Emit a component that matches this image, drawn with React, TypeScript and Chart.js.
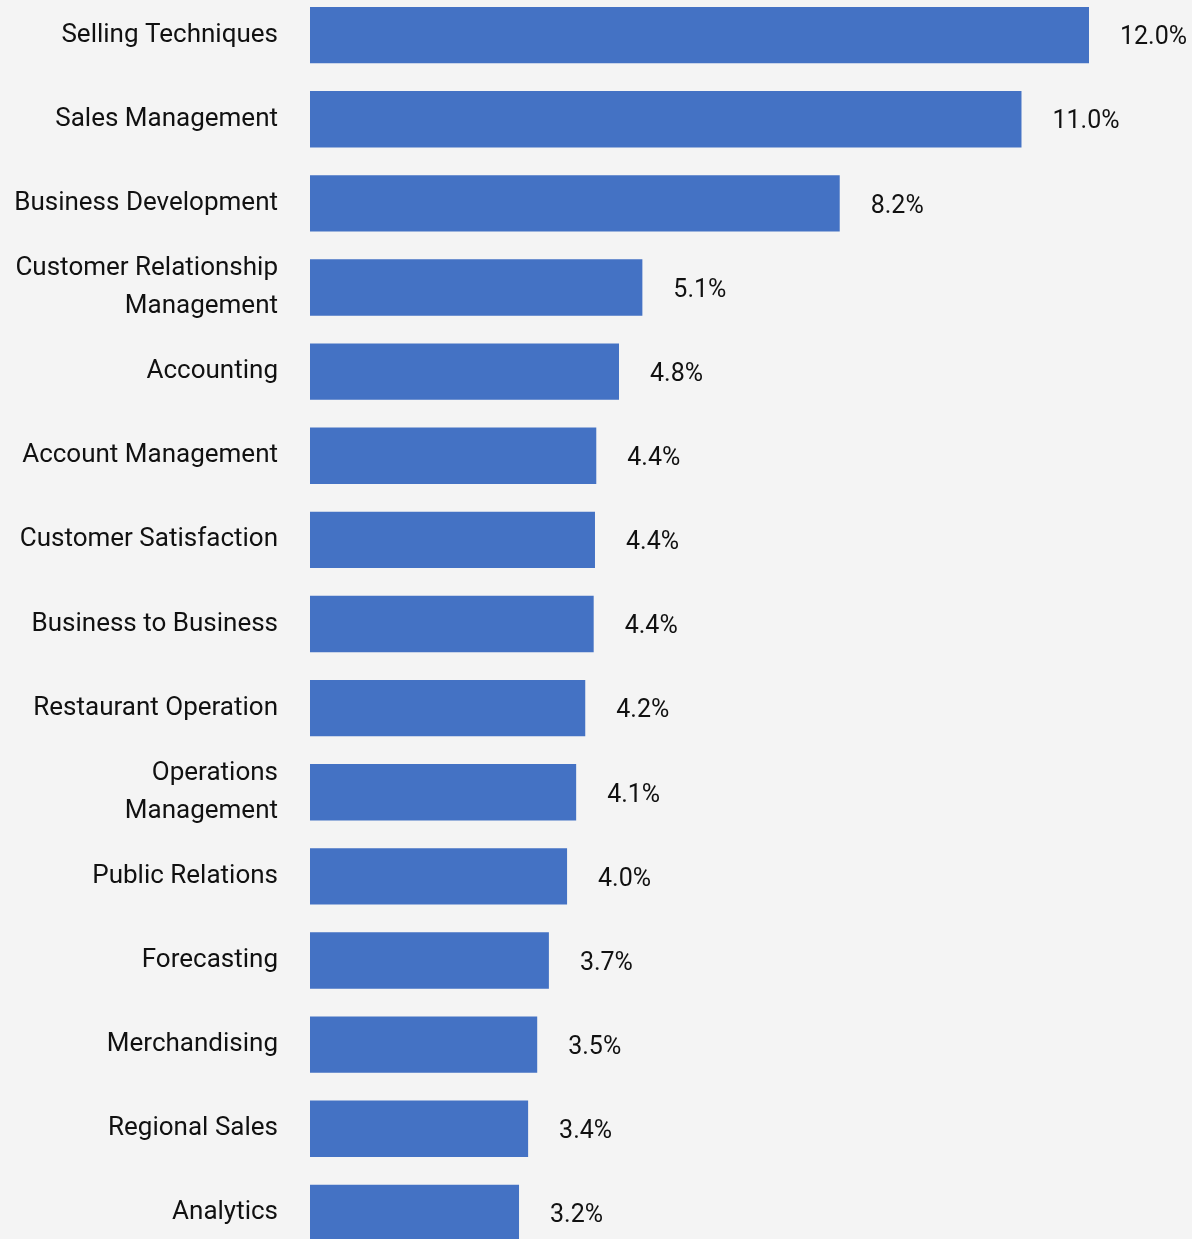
import React, { useEffect, useRef } from "react";
import { Chart, registerables } from "chart.js";

Chart.register(...registerables);

const categories: (string | string[])[] = [
  "Selling Techniques",
  "Sales Management",
  "Business Development",
  ["Customer Relationship", "Management"],
  "Accounting",
  "Account Management",
  "Customer Satisfaction",
  "Business to Business",
  "Restaurant Operation",
  ["Operations", "Management"],
  "Public Relations",
  "Forecasting",
  "Merchandising",
  "Regional Sales",
  "Analytics",
];

const shares: number[] = [
  12.0, 10.96, 8.16, 5.12, 4.76, 4.41, 4.39, 4.37, 4.24, 4.1, 3.96, 3.68, 3.5, 3.36, 3.22,
];

const FONT = "Roboto, 'DejaVu Sans', sans-serif";
const LABEL_SIZE = 26;
const VALUE_SIZE = 25;
const BAR_COLOR = "#4472C4";
const BG = "#f4f4f4";

const valueLabels = {
  id: "valueLabels",
  afterDatasetsDraw(chart: any) {
    const ctx = chart.ctx;
    const meta = chart.getDatasetMeta(0);
    ctx.save();
    ctx.font = `${VALUE_SIZE}px ${FONT}`;
    ctx.fillStyle = "#111111";
    ctx.textAlign = "left";
    ctx.textBaseline = "middle";
    meta.data.forEach((bar: any, i: number) => {
      const v = chart.data.datasets[0].data[i] as number;
      ctx.fillText(`${v.toFixed(1)}%`, bar.x + 31, bar.y + 3);
    });
    ctx.restore();
  },
};

export default function App() {
  const ref = useRef<HTMLCanvasElement | null>(null);

  useEffect(() => {
    document.body.style.margin = "0";
    document.body.style.background = BG;
    if (!ref.current) return;
    const chart = new Chart(ref.current, {
      type: "bar",
      data: {
        labels: categories as any,
        datasets: [
          {
            data: shares,
            backgroundColor: BAR_COLOR,
            borderWidth: 0,
            barPercentage: 0.67,
            categoryPercentage: 1,
          },
        ],
      },
      options: {
        indexAxis: "y",
        animation: false,
        responsive: false,
        maintainAspectRatio: false,
        layout: { padding: { left: 0, right: 103, top: 0, bottom: 0 } },
        plugins: {
          legend: { display: false },
          tooltip: { enabled: false },
        },
        scales: {
          x: {
            display: false,
            min: 0,
            max: 12,
          },
          y: {
            border: { display: false },
            grid: { display: false, drawTicks: false },
            ticks: {
              padding: 32,
              color: "#111111",
              font: { family: FONT, size: LABEL_SIZE, lineHeight: 38 / LABEL_SIZE },
            },
            afterFit(scale: any) {
              scale.width = 310;
              scale.paddingTop = 0;
              scale.paddingBottom = 0;
            },
          },
        },
      },
      plugins: [valueLabels],
    });
    return () => chart.destroy();
  }, []);

  return (
    <div
      style={{
        position: "relative",
        width: 1192,
        height: 1239,
        overflow: "hidden",
        background: BG,
      }}
    >
      <canvas
        ref={ref}
        width={1192}
        height={1262}
        style={{ position: "absolute", left: 0, top: -7, width: 1192, height: 1262 }}
      />
    </div>
  );
}
